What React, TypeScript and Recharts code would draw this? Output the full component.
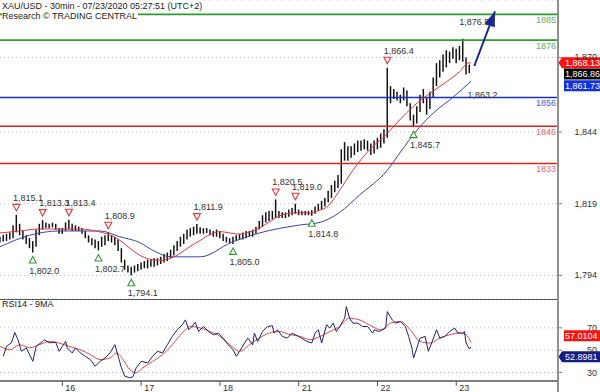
import React from "react";
import { Bar, CartesianGrid, ComposedChart, Line, ReferenceDot, ReferenceLine, XAxis, YAxis } from "recharts";

// hourly bars, index = hours since the first bar (15 Jul 05:00)
const priceLow = [
  1805.5, 1805.8, 1806.0, 1806.5, 1807.0, 1809.0, 1808.0, 1806.5, 1805.0, 1803.5,
  1802.0, 1804.0, 1808.0, 1810.0, 1810.5, 1810.5, 1810.8, 1810.0, 1808.5, 1808.5,
  1809.5, 1810.0, 1809.5, 1809.5, 1809.5, 1808.5, 1807.0, 1805.5, 1804.5, 1803.5,
  1802.7, 1804.0, 1804.5, 1806.0, 1805.5, 1804.5, 1802.5, 1798.5, 1796.0, 1795.0,
  1794.1, 1795.0, 1795.5, 1796.0, 1796.5, 1796.5, 1797.0, 1797.0, 1797.5, 1798.0,
  1798.5, 1799.0, 1800.0, 1801.0, 1802.5, 1804.0, 1805.0, 1806.5, 1807.5, 1808.0,
  1808.5, 1808.5, 1808.5, 1808.8, 1808.0, 1807.5, 1807.5, 1807.0, 1806.0, 1805.5,
  1805.3, 1805.0, 1806.0, 1806.5, 1806.5, 1807.0, 1807.5, 1807.5, 1808.5, 1810.0,
  1811.0, 1812.5, 1813.0, 1813.5, 1814.0, 1814.0, 1814.0, 1814.0, 1814.5, 1815.0,
  1815.5, 1815.0, 1815.0, 1815.0, 1815.0, 1814.8, 1815.5, 1816.5, 1817.0, 1818.0,
  1819.5, 1821.0, 1823.0, 1824.5, 1826.0, 1834.0, 1834.0, 1835.0, 1836.0, 1837.0,
  1837.5, 1838.0, 1837.5, 1836.0, 1836.5, 1838.0, 1838.5, 1840.0, 1842.0, 1854.0,
  1855.5, 1855.0, 1854.0, 1855.0, 1853.0, 1848.0, 1845.7, 1847.0, 1851.0, 1854.0,
  1850.0, 1852.0, 1856.0, 1860.0, 1863.0, 1865.0, 1866.5, 1868.0, 1869.5, 1868.0,
  1869.0, 1868.5, 1864.0, 1864.5,
];
const priceHigh = [
  1807.5, 1808.2, 1808.5, 1809.0, 1811.5, 1815.1, 1812.0, 1809.5, 1808.0, 1807.0,
  1806.0, 1810.0, 1812.0, 1813.3, 1812.5, 1812.0, 1812.4, 1812.0, 1810.5, 1810.5,
  1812.5, 1813.4, 1812.0, 1811.5, 1811.0, 1810.5, 1809.5, 1808.0, 1807.0, 1806.5,
  1806.0, 1807.5, 1808.0, 1808.9, 1808.0, 1807.5, 1806.5, 1803.5, 1799.5, 1797.5,
  1797.0, 1797.5, 1798.0, 1798.5, 1799.0, 1799.5, 1799.5, 1800.0, 1800.0, 1800.5,
  1801.5, 1802.0, 1803.0, 1804.5, 1806.0, 1807.5, 1808.5, 1810.0, 1810.5, 1811.0,
  1811.9, 1810.8, 1810.5, 1810.5, 1810.0, 1809.5, 1810.0, 1809.5, 1808.5, 1807.5,
  1807.0, 1807.5, 1808.0, 1808.5, 1809.0, 1809.5, 1809.5, 1810.0, 1811.0, 1813.0,
  1815.0, 1816.0, 1816.5, 1816.5, 1820.5, 1816.5, 1816.0, 1816.0, 1817.0, 1817.5,
  1819.0, 1817.0, 1816.5, 1816.5, 1816.5, 1816.8, 1818.0, 1819.0, 1820.0, 1821.0,
  1823.5, 1825.5, 1827.0, 1829.0, 1838.0, 1840.5, 1839.0, 1839.0, 1840.0, 1841.0,
  1841.0, 1841.5, 1841.0, 1840.0, 1841.0, 1842.0, 1843.5, 1845.0, 1866.4, 1860.0,
  1859.0, 1858.0, 1857.0, 1859.5, 1858.5, 1854.0, 1850.0, 1853.0, 1857.0, 1859.0,
  1856.0, 1858.0, 1863.0, 1868.0, 1869.0, 1871.0, 1872.5, 1872.0, 1873.5, 1873.0,
  1874.0, 1876.5, 1870.0, 1867.5,
];

// moving averages: [hour, value]
const fastMa: [number, number][] = [
  [0, 1808.8], [6, 1809.5], [12, 1810.2], [18, 1810.2], [24.5, 1810.2], [29, 1809.5],
  [33.5, 1808.1], [36.5, 1806.3], [39.5, 1803.5], [42.5, 1801.1], [45.5, 1799.7],
  [48.5, 1799.3], [52, 1800], [55, 1801.8], [58, 1804.2], [61, 1806.2], [64, 1808.3],
  [67, 1809.3], [70, 1808.8], [73, 1808.4], [76, 1809.1], [79, 1810.5], [82, 1812.6],
  [85, 1814.7], [88.5, 1815.7], [91.5, 1815.9], [94.5, 1815.8], [97.5, 1816.8],
  [99.5, 1817.8], [103.5, 1823.7], [107.5, 1830.7], [112.5, 1837.7], [118, 1843.5],
  [122, 1848.5], [126, 1853], [131, 1857.5], [136, 1861.5], [140, 1865], [142.5, 1868],
  [143.5, 1868.1],
];
const slowMa: [number, number][] = [
  [0, 1804], [9, 1808], [18, 1809.5], [30.5, 1809.5], [36.5, 1807.5], [42.5, 1805.5],
  [47, 1802.5], [52, 1800.5], [61, 1800.5], [70.5, 1805.5], [79, 1808.8], [91.5, 1811.6],
  [97.5, 1812.5], [103.5, 1816], [109.5, 1822], [118, 1830.7], [122, 1837], [127, 1844.6],
  [132, 1850.6], [138, 1856.1], [143.5, 1861.7],
];
const forecast: [number, number][] = [[144.5, 1867], [150.8, 1886]];

const levels = [1885, 1876, 1856, 1846, 1833];
const highMarks: [number, number][] = [
  [5, 1815.1], [13, 1813.3], [21, 1813.4], [33, 1808.9], [60, 1811.9], [84, 1820.5],
  [90, 1819.0], [118, 1866.4],
];
const lowMarks: [number, number][] = [
  [10, 1802.0], [30, 1802.7], [40, 1794.1], [71, 1805.0], [95, 1814.8], [126, 1845.7],
];
const textOnlyHigh: [number, number][] = [[141, 1876.5]];
const textOnlyLow: [number, number][] = [[143.5, 1863.2]];

const rsi: [number, number][] = [
  [1, 44.5], [2, 53.4], [3.5, 56.6], [4.5, 65.8], [5.5, 59.3], [6.5, 49], [8, 52], [9, 46],
  [10, 40], [11, 53.4], [13, 57.8], [13.5, 59.3], [15, 56.6], [17, 57], [18, 49], [20, 57.8],
  [20.5, 52], [22, 47.5], [23, 52], [24.5, 47.5], [26, 44.5], [27.5, 41.6], [29, 35.6],
  [30.5, 40], [32, 43], [33.5, 47.5], [35, 54.9], [36, 44.5], [37, 34.2], [38, 26.7],
  [39.5, 25.3], [40.5, 26.2], [41.5, 34.2], [43, 40], [45, 38.6], [46.5, 44.5], [48, 49],
  [49.5, 47.5], [51, 54.9], [52.5, 62.3], [54, 68.2], [55.5, 72.7], [56.5, 77.1],
  [57.5, 68.2], [58.5, 71.2], [59.5, 75], [60.5, 66.7], [62, 71.2], [63.5, 66.7], [65, 63.8],
  [66.5, 65.3], [68, 60.8], [69.5, 54.9], [71, 50.4], [72, 44.5], [73, 49], [74.5, 56.4],
  [75.5, 60.8], [77, 54.9], [77.5, 65.3], [78.5, 57.8], [80, 66.7], [81.5, 71.2], [83, 71.8],
  [83.5, 65.3], [84.5, 68.2], [86, 62.3], [87.5, 60.8], [89, 65.3], [91, 62.3], [93.5, 57.8],
  [95, 56.4], [96, 65.3], [97, 68.2], [98, 56.4], [99.5, 72.7], [100.5, 69.8], [101.5, 74.2],
  [102.5, 66.7], [103.5, 71.2], [105, 78.6], [105.5, 89], [106.5, 78.6], [107.5, 74.2],
  [109, 74.2], [110.5, 71.2], [112, 71.2], [113.5, 65.3], [114, 68.2], [115.5, 66.7],
  [117.5, 69.8], [118, 84.5], [119.5, 77.1], [120.5, 74.2], [122, 75.6], [123.5, 71.2],
  [124.5, 62.3], [125.5, 52], [126, 43], [127, 52], [128, 60.8], [129.5, 62.3], [130.5, 49],
  [131.5, 56.4], [133, 68.2], [134, 60.8], [135.5, 62.3], [137, 66.7], [138.5, 69.8],
  [139.5, 65.3], [141, 65.3], [141.5, 66.7], [142, 56.4], [143, 51], [143.5, 52.9],
];
const rsiMa: [number, number][] = [
  [0, 53.4], [3, 50.4], [6, 54.9], [9, 52.1], [12, 54.9], [15, 57.8], [18, 56.4], [21, 53.4],
  [24.5, 50.4], [27.5, 46], [30.5, 41.6], [33.5, 43], [35.5, 47.5], [37.5, 41.6], [39.5, 32.7],
  [41.5, 29.7], [43.5, 34.2], [46.5, 40], [49.5, 46], [52.5, 54.9], [55.5, 65.3], [58, 71.2],
  [61, 69.8], [64, 66.7], [67, 62.3], [70, 54.9], [73, 49], [76, 54.9], [79, 60.8], [82, 65.3],
  [85, 66.7], [88.5, 63.8], [91.5, 62.3], [94.5, 59.3], [97.5, 62.3], [100.5, 66.7],
  [103.5, 71.2], [106.5, 78.6], [109.5, 77.1], [112.5, 72.7], [116, 68.2], [119, 74.2],
  [122, 75.6], [125, 68.2], [128, 57.8], [131, 56.4], [134, 60.8], [137, 63.8], [140, 65.3],
  [142, 63.8], [143.5, 57.0],
];

const priceTicks = [1794, 1819, 1844, 1870];
const rsiTicks = [30, 50, 70];
const dayTicks = [19, 43, 67, 91, 115, 139];
const dayLabels = ["16", "17", "18", "21", "22", "23"];

const lastPrice = { fast: 1868.13, close: 1866.86, slow: 1861.73 };
const lastRsi = { ma: 57.0104, rsi: 52.8981 };

const levelColor: Record<number, [string, string]> = {
  1885: ["#2f9a2f", "#5fae5f"],
  1876: ["#2f9a2f", "#5fae5f"],
  1856: ["#1c2fd0", "#4a5ad0"],
  1846: ["#d42424", "#e06a6a"],
  1833: ["#d42424", "#e06a6a"],
};

const W = 600;
const X_DOMAIN: [number, number] = [0, 170];
const FONT = "'Liberation Sans', Arial, sans-serif";
const NAVY = "#1b2a8a";

const toRows = (pts: [number, number][]) => pts.map(([t, v]) => ({ t, v }));
const priceData = priceLow.map((low, i) => ({ t: i, range: [low, priceHigh[i]] }));

function ValueTick(props: any) {
  const { x, y, payload, fmt } = props;
  return (
    <text x={x + 33} y={y + 3} textAnchor="end" fontSize={9} fill="#333">
      {fmt ? fmt(payload.value) : payload.value}
    </text>
  );
}

function DayTick(props: any) {
  const { x, y, index } = props;
  return (
    <text x={x + 3} y={y + 4.5} fontSize={9} fill="#333">
      {dayLabels[index]}
    </text>
  );
}

function Tag(props: any) {
  const { viewBox, text, bg, fg, dy, pointed } = props;
  const x0 = viewBox.x + viewBox.width;
  const cy = viewBox.y + dy;
  const h = 11;
  const left = x0 + (pointed ? 4 : 6);
  const right = W;
  const d = pointed
    ? `M${x0 + 0.5},${cy} L${left},${cy - h / 2} L${right},${cy - h / 2} L${right},${cy + h / 2} L${left},${cy + h / 2} Z`
    : `M${left},${cy - h / 2} L${right},${cy - h / 2} L${right},${cy + h / 2} L${left},${cy + h / 2} Z`;
  return (
    <g>
      <path d={d} fill={bg} />
      <text x={x0 + 7} y={cy + 3.3} fontSize={9} fill={fg}>
        {text}
      </text>
    </g>
  );
}

const markShape = (kind: "high" | "low" | "textHigh" | "textLow", text: string) => (p: any) => {
  const { cx, cy } = p;
  if (kind === "high" || kind === "textHigh") {
    return (
      <g>
        {kind === "high" && (
          <polygon
            points={`${cx - 3.5},${cy - 10.5} ${cx + 3.5},${cy - 10.5} ${cx},${cy - 4}`}
            fill="#fff"
            stroke="#e03a3a"
            strokeWidth={1.1}
          />
        )}
        <text x={cx - 3.5} y={cy - 14} fontSize={9} fill="#333">
          {text}
        </text>
      </g>
    );
  }
  return (
    <g>
      {kind === "low" && (
        <polygon
          points={`${cx - 3.5},${cy + 10.5} ${cx + 3.5},${cy + 10.5} ${cx},${cy + 4}`}
          fill="#fff"
          stroke="#3a9a3a"
          strokeWidth={1.1}
        />
      )}
      <text x={cx - 3.5} y={cy + 21} fontSize={9} fill="#333">
        {text}
      </text>
    </g>
  );
};

let arrowStart = { x: 0, y: 0 };
function ArrowHead(p: any) {
  const { cx, cy, index } = p;
  if (index === 0) {
    arrowStart = { x: cx, y: cy };
    return <g key="ah0" />;
  }
  const ang = Math.atan2(cy - arrowStart.y, cx - arrowStart.x);
  const len = 15;
  const half = 5.5;
  const bx = cx - len * Math.cos(ang);
  const by = cy - len * Math.sin(ang);
  const ox = -Math.sin(ang) * half;
  const oy = Math.cos(ang) * half;
  return <polygon key="ah1" points={`${cx},${cy} ${bx + ox},${by + oy} ${bx - ox},${by - oy}`} fill={NAVY} />;
}

const fmtPrice = (v: number) => v.toLocaleString("en-US");
const fmtMark = (v: number) => v.toLocaleString("en-US", { minimumFractionDigits: 1, maximumFractionDigits: 1 });

export default function App() {
  return (
    <div
      style={{
        position: "absolute",
        left: 0,
        top: 0,
        width: W,
        height: 392,
        background: "#fff",
        overflow: "hidden",
        fontFamily: FONT,
      }}
    >
      <ComposedChart width={W} height={299} data={priceData} margin={{ top: 0, right: 0, bottom: 0, left: 0 }}>
        <CartesianGrid vertical={false} stroke="#bdbdbd" strokeDasharray="1 3" />
        <XAxis dataKey="t" type="number" domain={X_DOMAIN} hide allowDataOverflow />
        <YAxis
          orientation="right"
          width={42}
          domain={[1785.8, 1890]}
          ticks={priceTicks}
          interval={0}
          allowDataOverflow
          axisLine={false}
          tickSize={4}
          tickLine={{ stroke: "#777" }}
          tick={<ValueTick fmt={fmtPrice} />}
        />
        {levels.map((v) => (
          <ReferenceLine
            key={v}
            y={v}
            stroke={levelColor[v][0]}
            strokeWidth={1.6}
            label={{ value: String(v), position: "insideTopRight", offset: 2, fill: levelColor[v][1], fontSize: 9 }}
          />
        ))}
        <Bar dataKey="range" barSize={3} fill="#111" isAnimationActive={false} />
        <Line data={toRows(slowMa)} dataKey="v" type="monotone" stroke="#3a45a8" strokeWidth={1} dot={false} activeDot={false} isAnimationActive={false} />
        <Line data={toRows(fastMa)} dataKey="v" type="monotone" stroke="#d83a3a" strokeWidth={1} dot={false} activeDot={false} isAnimationActive={false} />
        {highMarks.map(([t, v]) => (
          <ReferenceDot key={`h${t}`} x={t} y={v} r={0} shape={markShape("high", fmtMark(v))} />
        ))}
        {lowMarks.map(([t, v]) => (
          <ReferenceDot key={`l${t}`} x={t} y={v} r={0} shape={markShape("low", fmtMark(v))} />
        ))}
        {textOnlyHigh.map(([t, v]) => (
          <ReferenceDot key={`th${t}`} x={t} y={v} r={0} shape={markShape("textHigh", fmtMark(v))} />
        ))}
        {textOnlyLow.map(([t, v]) => (
          <ReferenceDot key={`tl${t}`} x={t} y={v} r={0} shape={markShape("textLow", fmtMark(v))} />
        ))}
        <Line data={toRows(forecast)} dataKey="v" stroke={NAVY} strokeWidth={2} dot={ArrowHead} activeDot={false} isAnimationActive={false} />
        <ReferenceLine y={lastPrice.fast} stroke="none" label={(p: any) => <Tag {...p} text={fmtPrice(lastPrice.fast)} bg="#ff1010" fg="#fff" dy={0} pointed />} />
        <ReferenceLine y={lastPrice.close} stroke="none" label={(p: any) => <Tag {...p} text={fmtPrice(lastPrice.close)} bg="#000" fg="#fff" dy={7.6} />} />
        <ReferenceLine y={lastPrice.slow} stroke="none" label={(p: any) => <Tag {...p} text={fmtPrice(lastPrice.slow)} bg="#1030e0" fg="#fff" dy={4.6} />} />
      </ComposedChart>

      <ComposedChart width={W} height={93} margin={{ top: 0, right: 0, bottom: 0, left: 0 }}>
        <CartesianGrid vertical={false} stroke="#bdbdbd" strokeDasharray="1 3" />
        <XAxis
          dataKey="t"
          type="number"
          domain={X_DOMAIN}
          ticks={dayTicks}
          interval={0}
          height={11}
          allowDataOverflow
          axisLine={{ stroke: "#555", strokeWidth: 1.5 }}
          tickSize={5}
          tickMargin={0}
          tickLine={{ stroke: "#555" }}
          tick={<DayTick />}
        />
        <YAxis
          orientation="right"
          width={42}
          domain={[22.4, 95.8]}
          ticks={rsiTicks}
          interval={0}
          allowDataOverflow
          axisLine={false}
          tickSize={4}
          tickLine={{ stroke: "#777" }}
          tick={<ValueTick />}
        />
        <Line data={toRows(rsiMa)} dataKey="v" type="monotone" stroke="#d84848" strokeWidth={1} dot={false} activeDot={false} isAnimationActive={false} />
        <Line data={toRows(rsi)} dataKey="v" stroke="#1d2470" strokeWidth={1} dot={false} activeDot={false} isAnimationActive={false} />
        <ReferenceLine y={lastRsi.ma} stroke="none" label={(p: any) => <Tag {...p} text={lastRsi.ma.toFixed(4)} bg="#ff1010" fg="#fff" dy={-6.6} />} />
        <ReferenceLine y={lastRsi.rsi} stroke="none" label={(p: any) => <Tag {...p} text={lastRsi.rsi.toFixed(4)} bg="#141c80" fg="#fff" dy={9.8} pointed />} />
      </ComposedChart>

      <div style={{ position: "absolute", left: 0, top: 298.5, width: 558, height: 1.5, background: "#555" }} />
      <div style={{ position: "absolute", left: 557, top: 0, width: 2, height: 392, background: "#909090" }} />
      <div style={{ position: "absolute", left: 2, top: 0, fontSize: 9, lineHeight: "10px", color: "#222" }}>
        <div style={{ background: "#fff", width: "fit-content", paddingTop: 1 }}>XAU/USD - 30min - 07/23/2020 05:27:51 (UTC+2)</div>
        <div style={{ background: "#fff", width: "fit-content", paddingRight: 1 }}>Research © TRADING CENTRAL</div>
      </div>
      <div style={{ position: "absolute", left: 2, top: 300, fontSize: 9, lineHeight: "9px", color: "#222" }}>RSI14 - 9MA</div>
    </div>
  );
}
